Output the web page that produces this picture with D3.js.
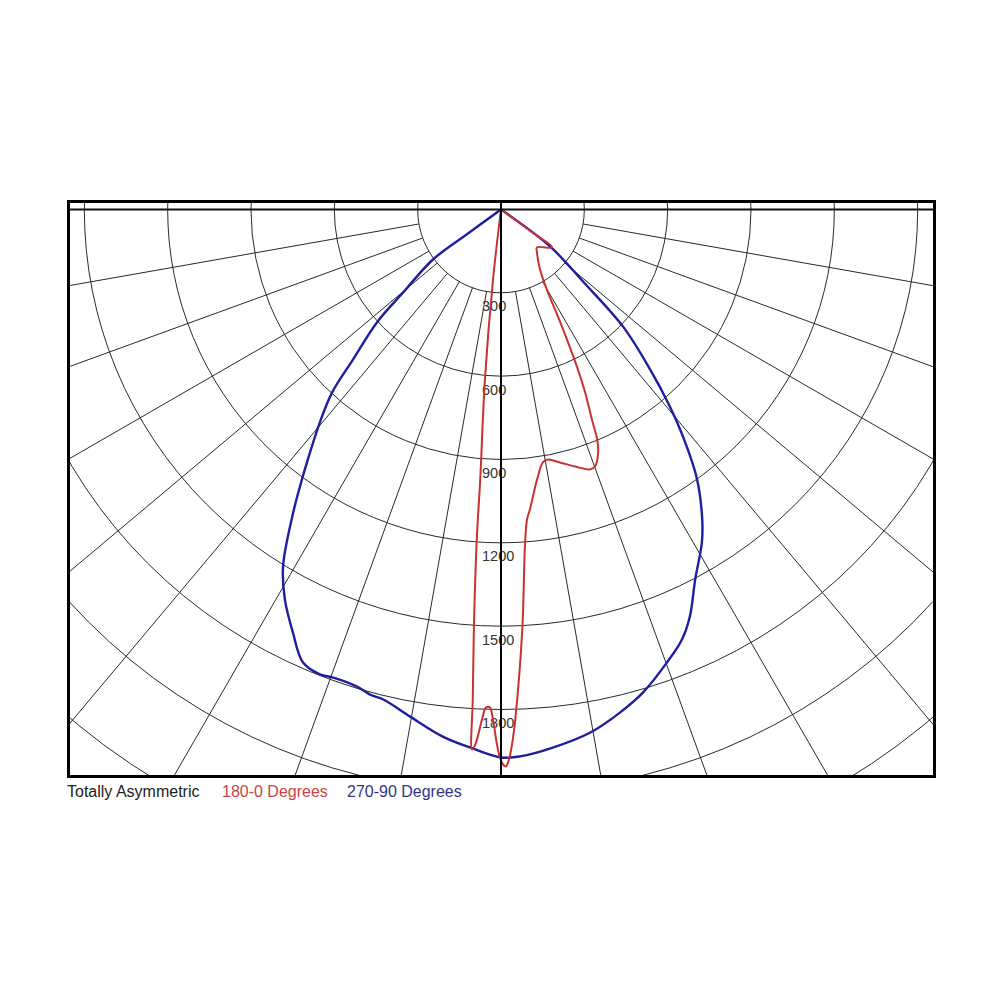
<!DOCTYPE html>
<html>
<head>
<meta charset="utf-8">
<script src="https://cdn.jsdelivr.net/npm/d3@7"></script>
<style>
  html, body { margin: 0; padding: 0; background: #fff; }
  svg { display: block; }
</style>
</head>
<body>
<svg id="chart" width="1000" height="1000"></svg>
<script>
// ---- data ----
const ringValues = [300, 600, 900, 1200, 1500, 1800, 2100, 2400, 2700, 3000];
const ringLabels = ["300", "600", "900", "1200", "1500", "1800"];
const radialAngles = [-80, -70, -60, -50, -40, -30, -20, -10, 10, 20, 30, 40, 50, 60, 70, 80];
const legendTitle = "Totally Asymmetric";
const seriesNames = ["180-0 Degrees", "270-90 Degrees"];

// 180-0 plane (negative angle = 180 side, positive = 0 side), ordered as traced
const redAngles = [-7, -6.5, -5.4, -4.4, -4.2, -3.7, -3.3, -3.07, -2.69, -2.13, -1.73, -1.27, -0.9, -0.43, -0.1, 0.21, 0.51, 0.83, 1.18, 1.6, 2.9, 4.1, 4.8, 5.5, 7.6, 9.4, 10.6, 13.1, 16.1, 18.9, 20.1, 21.8, 22.7, 23.4, 24.7, 25.8, 26.9, 28.4, 29.5, 33, 39.9, 43.5, 53.3, 53.6, 54];
const redValues = [0, 254, 615, 975, 1191, 1515, 1767, 1947, 1921, 1837, 1794, 1793, 1836, 1926, 1973, 1998, 2005, 1980, 1926, 1837, 1514, 1209, 1120, 1085, 981, 923, 916, 935, 963, 989, 985, 942, 897, 824, 725, 628, 525, 409, 343, 258, 202, 188, 229, 120, 0];

// 270-90 plane (negative angle = 270 side, positive = 90 side)
const blueAngles = [-56, -54, -53.7, -49.7, -47.7, -44.6, -42.7, -40.4, -37.7, -35.6, -34.2, -31.4, -29.0, -26.2, -23.6, -21.3, -19.7, -16.8, -15.1, -13.5, -10.2, -6.3, -3.3, 0, 2.0, 5.5, 9.7, 13.3, 16.4, 20.1, 22.8, 24.9, 27.7, 31.1, 33, 36, 38.7, 40.6, 43, 46.2, 48.7, 53, 55];
const blueValues = [0, 150, 304, 462, 604, 759, 897, 1006, 1137, 1254, 1337, 1506, 1605, 1697, 1780, 1796, 1790, 1794, 1809, 1814, 1854, 1909, 1940, 1973, 1970, 1946, 1910, 1861, 1812, 1737, 1680, 1615, 1504, 1400, 1330, 1201, 1048, 934, 787, 608, 393, 221, 0];

// ---- layout ----
const frame = { x: 68.5, y: 201.5, w: 866, h: 575 };
const cx = 501, cy = 209.5;
const r = d3.scaleLinear().domain([0, 1800]).range([0, 500]);
const toRad = a => (180 - a) * Math.PI / 180; // d3 radial: 0 = up, clockwise

const svg = d3.select("#chart");
svg.append("rect").attr("width", 1000).attr("height", 1000).attr("fill", "#fff");

svg.append("defs").append("clipPath").attr("id", "clip")
  .append("rect").attr("x", frame.x).attr("y", frame.y).attr("width", frame.w).attr("height", frame.h);

const plot = svg.append("g").attr("clip-path", "url(#clip)");
const g = plot.append("g").attr("transform", `translate(${cx},${cy})`);

// rings
g.selectAll("circle.ring").data(ringValues).enter().append("circle")
  .attr("class", "ring").attr("r", d => r(d))
  .attr("fill", "none").attr("stroke", "#2a2a2a").attr("stroke-width", 1);

// radial lines starting from the first ring
const rMax = r(3200);
g.selectAll("line.radial").data(radialAngles).enter().append("line")
  .attr("x1", d => r(ringValues[0]) * Math.sin(toRad(d)))
  .attr("y1", d => -r(ringValues[0]) * Math.cos(toRad(d)))
  .attr("x2", d => rMax * Math.sin(toRad(d)))
  .attr("y2", d => -rMax * Math.cos(toRad(d)))
  .attr("stroke", "#2a2a2a").attr("stroke-width", 1);

// horizontal 90° line
plot.append("line").attr("x1", frame.x).attr("x2", frame.x + frame.w)
  .attr("y1", cy).attr("y2", cy).attr("stroke", "#111").attr("stroke-width", 2);

// ring labels
g.selectAll("text.rl").data(ringLabels).enter().append("text")
  .attr("x", -19).attr("y", d => r(+d) + 18.5)
  .attr("font-family", "Liberation Sans, Arial, sans-serif").attr("font-size", 14.5)
  .attr("fill", "#333").text(d => d);

// vertical center line
plot.append("line").attr("x1", cx).attr("x2", cx)
  .attr("y1", frame.y).attr("y2", frame.y + frame.h).attr("stroke", "#000").attr("stroke-width", 2);

// curves
const radial = d3.lineRadial()
  .angle(d => toRad(d[0]))
  .radius(d => r(d[1]))
  .curve(d3.curveCatmullRom.alpha(0.5));

const blueData = blueAngles.map((a, i) => [a, blueValues[i]]);
const redData = redAngles.map((a, i) => [a, redValues[i]]);

g.append("path").attr("d", radial(blueData))
  .attr("fill", "none").attr("stroke", "#1e1e9e").attr("stroke-width", 2.4).attr("stroke-linejoin", "round");
g.append("path").attr("d", radial(redData))
  .attr("fill", "none").attr("stroke", "#c83232").attr("stroke-width", 2).attr("stroke-linejoin", "round");

// frame
svg.append("rect").attr("x", frame.x).attr("y", frame.y).attr("width", frame.w).attr("height", frame.h)
  .attr("fill", "none").attr("stroke", "#000").attr("stroke-width", 3);

// legend
const legend = svg.append("text").attr("x", 67).attr("y", 797)
  .attr("font-family", "Liberation Sans, Arial, sans-serif").attr("font-size", 16);
legend.append("tspan").attr("fill", "#222").text(legendTitle);
legend.append("tspan").attr("x", 222).attr("fill", "#c84444").text(seriesNames[0]);
legend.append("tspan").attr("x", 347).attr("fill", "#33338a").text(seriesNames[1]);
</script>
</body>
</html>
